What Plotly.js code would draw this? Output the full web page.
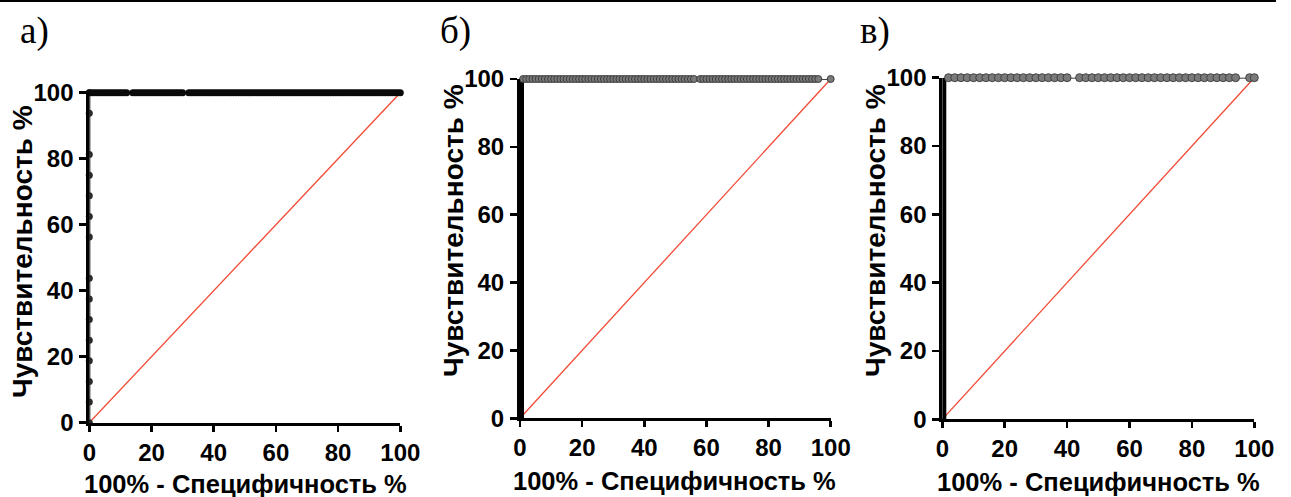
<!DOCTYPE html>
<html>
<head>
<meta charset="utf-8">
<script src="https://cdn.plot.ly/plotly-3.0.1.min.js"></script>
<style>html,body{margin:0;padding:0;background:#fff;}#chart{width:1291px;height:497px;}</style>
</head>
<body>
<div id="chart"></div>
<script>
// ---- Data ----
const panelLabels = ["а)", "б)", "в)"];
const xTitle = "100% - Специфичность %";
const yTitle = "Чувствительность %";
const tickVals = [0, 20, 40, 60, 80, 100];
const diagX = [0, 100];
const diagY = [0, 100];

// Panel а: points on the vertical part (x = 0)
const aVertY = [0, 6.25, 12.5, 18.75, 25, 31.25, 37.5, 43.75, 56.25, 62.5, 68.75, 75, 81.25, 93.75, 100];
// Panel а: points on the top (y = 100)
const aTopX = [0,0.8,1.6,2.4,3.2,4,4.8,5.6,6.4,7.2,8,8.8,9.6,10.4,11.2,12,
  14,14.8,15.6,16.4,17.2,18,18.8,19.6,20.4,21.2,22,22.8,23.6,24.4,25.2,26,26.8,27.6,28.4,29.2,30,
  32,32.8,33.6,34.4,35.2,36,36.8,37.6,38.4,39.2,40,40.8,41.6,42.4,43.2,44,44.8,45.6,46.4,47.2,48,
  48.8,49.6,50.4,51.2,52,52.8,53.6,54.4,55.2,56,56.8,57.6,58.4,59.2,60,60.8,61.6,62.4,63.2,64,64.8,
  65.6,66.4,67.2,68,68.8,69.6,70.4,71.2,72,72.8,73.6,74.4,75.2,76,76.8,77.6,78.4,79.2,80,80.8,81.6,
  82.4,83.2,84,84.8,85.6,86.4,87.2,88,88.8,89.6,90.4,91.2,92,92.8,93.6,94.4,95.2,96,96.8,97.6,98.4,99.2,100];

// Panel б: vertical part and top points
const bVertY = [0, 100];
const bTopX = [1,2,3,4,5,6,7,8,9,10,11,12,13,14,15,16,17,18,19,20,21,22,23,24,25,26,27,28,29,30,
  31,32,33,34,35,36,37,38,39,40,41,42,43,44,45,46,47,48,49,50,51,52,53,54,55,56,
  58,59,60,61,62,63,64,65,66,67,68,69,70,71,72,73,74,75,76,77,78,79,80,81,82,83,84,85,86,87,88,89,
  90,91,92,93,94,95,96,100];

// Panel в: vertical part and top points
const cVertY = [0, 100];
const cTopX = [2,4,6,8,10,12,14,16,18,20,22,24,26,28,30,32,34,36,38,40,
  44,46,48,50,52,54,56,58,60,62,64,66,68,70,72,74,76,78,80,82,84,86,88,90,92,94,98.5,100];

// ---- Layout geometry (pixels) ----
const W = 1291, H = 497;
const px = v => v / W;
const py = v => 1 - v / H;
const panels = [
  {x0: 89.3, x1: 400.3, yTop: 92.7, yBot: 422.7, xtX: 245, xtY: 484, ytX: 22, ytY: 252, lab: 18},
  {x0: 520, x1: 830.7, yTop: 79, yBot: 418.3, xtX: 675, xtY: 481, ytX: 453, ytY: 231, lab: 438},
  {x0: 942.3, x1: 1254.3, yTop: 77.7, yBot: 419.3, xtX: 1098, xtY: 482, ytX: 875, ytY: 231, lab: 858}
];

const traces = [];
function addPanel(i, vertX, vertY, topX, mk, vertWidth) {
  const xa = i === 0 ? 'x' : 'x' + (i + 1);
  const ya = i === 0 ? 'y' : 'y' + (i + 1);
  // diagonal reference
  traces.push({x: diagX, y: diagY, xaxis: xa, yaxis: ya, mode: 'lines',
    line: {color: '#f24b36', width: 1.3}, hoverinfo: 'skip', cliponaxis: false});
  // vertical ROC segment
  traces.push({x: vertX, y: vertY, xaxis: xa, yaxis: ya, mode: vertWidth ? 'lines' : 'lines+markers',
    line: {color: '#000', width: vertWidth || 2},
    marker: {color: '#2a2a2a', size: 7}, cliponaxis: false});
  // top ROC segment
  traces.push({x: topX, y: topX.map(() => 100), xaxis: xa, yaxis: ya, mode: 'lines+markers',
    line: {color: '#000', width: 1.4}, marker: mk, cliponaxis: false});
}
addPanel(0, aVertY.map(() => 0), aVertY, aTopX, {color: '#0a0a0a', size: 7}, 0);
addPanel(1, bVertY.map(() => 0), bVertY, bTopX, {color: '#7a7a7a', size: 7, line: {color: '#333', width: 0.9}}, 8);
addPanel(2, cVertY.map(() => 0), cVertY, cTopX, {color: '#7a7a7a', size: 8, line: {color: '#3a3a3a', width: 0.9}}, 8);

const tickFont = {family: 'Liberation Sans, Arial, sans-serif', size: 24, color: '#000', weight: 'bold'};
const xTitleFont = {family: 'Liberation Sans, Arial, sans-serif', size: 25.5, color: '#000', weight: 'bold'};
const yTitleFont = {family: 'Liberation Sans, Arial, sans-serif', size: 28, color: '#000', weight: 'bold'};

const layout = {
  width: W, height: H,
  margin: {l: 0, r: 0, t: 0, b: 0},
  paper_bgcolor: '#fff', plot_bgcolor: '#fff',
  showlegend: false,
  annotations: [],
  shapes: [{type: 'line', xref: 'paper', yref: 'paper', x0: 0, x1: px(1276), y0: py(1), y1: py(1),
    line: {color: '#000', width: 2}}]
};

panels.forEach((p, i) => {
  const sx = i === 0 ? '' : String(i + 1);
  const axCommon = {
    range: [0, 100], tickvals: tickVals, ticktext: tickVals.map(String),
    showgrid: false, zeroline: false, showline: true, linecolor: '#000', linewidth: 3,
    ticks: 'outside', ticklen: 7, tickwidth: 2.5, tickcolor: '#000',
    tickfont: tickFont, fixedrange: true
  };
  layout['xaxis' + sx] = Object.assign({}, axCommon, {
    domain: [px(p.x0), px(p.x1)], anchor: 'y' + sx, ticklen: 6, ticklabelstandoff: 0
  });
  layout['yaxis' + sx] = Object.assign({}, axCommon, {
    domain: [py(p.yBot), py(p.yTop)], anchor: 'x' + sx, ticklabelstandoff: 1
  });
  layout.annotations.push({xref: 'paper', yref: 'paper', x: px(p.xtX), y: py(p.xtY),
    text: xTitle, showarrow: false, xanchor: 'center', yanchor: 'middle', font: xTitleFont});
  layout.annotations.push({xref: 'paper', yref: 'paper', x: px(p.ytX), y: py(p.ytY),
    text: yTitle, showarrow: false, xanchor: 'center', yanchor: 'middle', textangle: -90, font: yTitleFont});
  layout.annotations.push({xref: 'paper', yref: 'paper', x: px(p.lab), y: py(31),
    text: panelLabels[i], showarrow: false, xanchor: 'left', yanchor: 'middle',
    font: {family: 'Liberation Serif, Times New Roman, serif', size: 37, color: '#000'}});
});

Plotly.newPlot('chart', traces, layout, {displayModeBar: false, staticPlot: true});
</script>
</body>
</html>
